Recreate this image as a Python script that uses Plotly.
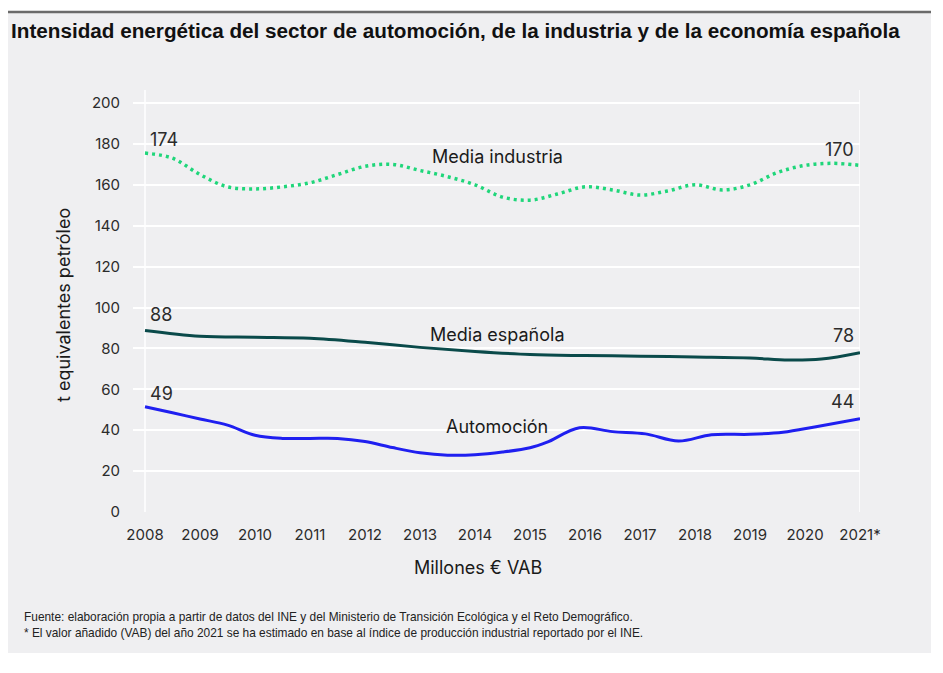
import plotly.graph_objects as go

# ---------------- data ----------------
tick_years = [2008, 2009, 2010, 2011, 2012, 2013, 2014, 2015, 2016, 2017, 2018, 2019, 2020, 2021]
tick_labels = ["2008", "2009", "2010", "2011", "2012", "2013", "2014", "2015", "2016", "2017",
               "2018", "2019", "2020", "2021*"]
y_ticks = [0, 20, 40, 60, 80, 100, 120, 140, 160, 180, 200]

ind_x = [2008.0, 2008.5, 2009.0, 2009.5, 2010.0, 2010.5, 2011.0, 2011.5, 2012.0, 2012.5, 2013.0,
         2013.5, 2014.0, 2014.5, 2015.0, 2015.5, 2016.0, 2016.5, 2017.0, 2017.5, 2018.0, 2018.5,
         2019.0, 2019.5, 2020.0, 2020.5, 2021.0]
ind_y = [175.5, 173, 165, 159, 158, 159, 161, 165, 169, 170, 167, 164, 160, 154, 152.5, 155.5,
         159, 157.5, 155, 157, 160, 157.5, 160, 166, 169.5, 170.5, 169.5]

esp_x = [2008.0, 2009.0, 2010.0, 2011.0, 2012.0, 2013.0, 2014.0, 2015.0, 2016.0, 2017.0, 2018.0,
         2019.0, 2019.7, 2020.3, 2021.0]
esp_y = [88.8, 86, 85.5, 85, 83, 80.5, 78.5, 77, 76.5, 76.2, 75.8, 75.3, 74.3, 74.8, 77.9]

aut_x = [2008.0, 2008.5, 2009.0, 2009.5, 2010.0, 2010.5, 2011.0, 2011.5, 2012.0, 2012.5, 2013.0,
         2013.5, 2014.0, 2014.5, 2015.0, 2015.3, 2015.9, 2016.5, 2017.1, 2017.7, 2018.3, 2019.0,
         2019.6, 2020.2, 2021.0]
aut_y = [51.5, 48.5, 45.5, 42.5, 37.5, 36, 36, 36, 34.5, 31.5, 29, 27.8, 28, 29.3, 31.4, 34,
         41.2, 39.3, 38.2, 34.7, 37.8, 38, 39, 41.7, 45.6]

series_names = ["Media industria", "Media española", "Automoción"]
start_labels = [174, 88, 49]
end_labels = [170, 78, 44]
name_pos_x = [2014.4, 2014.4, 2014.4]
name_pos_y = [173.6, 86.6, 41.6]

title = "Intensidad energética del sector de automoción, de la industria y de la economía española"
x_title = "Millones € VAB"
y_title = "t equivalentes petróleo"
footer = ["Fuente: elaboración propia a partir de datos del INE y del Ministerio de Transición Ecológica y el Reto Demográfico.",
          "* El valor añadido (VAB) del año 2021 se ha estimado en base al índice de producción industrial reportado por el INE."]

# ---------------- layout helpers ----------------
W, H = 943, 673
OFF = 8  # page body margin
PL, PR, PT, PB = 133, 860, 90, 512  # plot area in page pixels
X0 = 2008 - (145 - PL) / 55.0
X1 = 2021
Y1 = (PB - PT) / 2.045


def px(xp):
    return (xp - PL) / (PR - PL)


def py(yp):
    return (PB - yp) / (PB - PT)


TXT = "#2b2b2b"
MAIN_FONT = "Inter, Liberation Sans, Arial, sans-serif"
SANS = "Liberation Sans, Arial, sans-serif"

colors = ["#1fd67a", "#0a4a4a", "#1f1ff0"]
xs = [ind_x, esp_x, aut_x]
ys = [ind_y, esp_y, aut_y]

fig = go.Figure()
for i in range(3):
    fig.add_trace(go.Scatter(
        x=xs[i], y=ys[i], mode="lines", name=series_names[i],
        line=dict(color=colors[i], width=3.5 if i == 0 else 3, shape="spline", smoothing=1.0,
                  dash="3px,4px" if i == 0 else "solid"),
        hoverinfo="skip", showlegend=False))

annotations = []
start_shift = [14, 16, 13]
end_shift = [16, 17, 17]
for i in range(3):
    annotations.append(dict(x=xs[i][0], y=ys[i][0], xref="x", yref="y", text=str(start_labels[i]),
                            showarrow=False, xanchor="left", yanchor="middle", xshift=3,
                            yshift=start_shift[i], font=dict(size=18, color=TXT, family=MAIN_FONT)))
    annotations.append(dict(x=xs[i][-1], y=ys[i][-1], xref="x", yref="y", text=str(end_labels[i]),
                            showarrow=False, xanchor="right", yanchor="middle", xshift=-4,
                            yshift=end_shift[i], font=dict(size=18, color=TXT, family=MAIN_FONT)))
    annotations.append(dict(x=name_pos_x[i], y=name_pos_y[i], xref="x", yref="y", text=series_names[i],
                            showarrow=False, xanchor="center", yanchor="middle",
                            font=dict(size=18, color="#1a1a1a", family=MAIN_FONT)))

annotations.append(dict(x=px(9), y=py(30), xref="paper", yref="paper", text="<b>" + title + "</b>",
                        showarrow=False, xanchor="left", yanchor="middle",
                        font=dict(size=20.7, color="#111111", family=SANS)))
annotations.append(dict(x=px(478), y=py(567), xref="paper", yref="paper", text=x_title,
                        showarrow=False, xanchor="center", yanchor="middle",
                        font=dict(size=18, color="#1a1a1a", family=MAIN_FONT)))
annotations.append(dict(x=px(63), y=py(305), xref="paper", yref="paper", text=y_title, textangle=-90,
                        showarrow=False, xanchor="center", yanchor="middle",
                        font=dict(size=18, color="#1a1a1a", family=MAIN_FONT)))
for j, line in enumerate(footer):
    annotations.append(dict(x=px(22), y=py(617 + 16 * j), xref="paper", yref="paper", text=line,
                            showarrow=False, xanchor="left", yanchor="middle",
                            font=dict(size=11.9, color="#222222", family=SANS)))

shapes = [
    dict(type="rect", xref="paper", yref="paper", x0=px(7), x1=px(931), y0=py(653), y1=py(12),
         fillcolor="#efeff1", line=dict(width=0), layer="below"),
    dict(type="line", xref="paper", yref="paper", x0=px(7), x1=px(931), y0=py(12), y1=py(12),
         line=dict(color="#6a6a6a", width=2.5), layer="below"),
    dict(type="line", xref="x", yref="paper", x0=2008, x1=2008, y0=0, y1=1,
         line=dict(color="#ffffff", width=1.5), layer="below"),
    dict(type="line", xref="x", yref="paper", x0=2021, x1=2021, y0=0, y1=1,
         line=dict(color="#ffffff", width=1.5), layer="below"),
]

fig.update_layout(
    width=W - OFF, height=H - OFF,
    margin=dict(l=PL - OFF, r=W - PR, t=PT - OFF, b=H - PB, pad=0),
    paper_bgcolor="#ffffff", plot_bgcolor="rgba(0,0,0,0)",
    annotations=annotations, shapes=shapes,
    font=dict(family=MAIN_FONT, color=TXT),
    xaxis=dict(range=[X0, X1], tickvals=tick_years, ticktext=tick_labels, showgrid=False,
               zeroline=False, showline=False, ticks="", ticklabelstandoff=12,
               tickfont=dict(size=15, color=TXT, family=MAIN_FONT), fixedrange=True),
    yaxis=dict(range=[0, Y1], tickvals=y_ticks, showgrid=True, gridcolor="#ffffff", gridwidth=1.5,
               zeroline=False, showline=False, ticks="", ticklabelstandoff=12,
               tickfont=dict(size=15, color=TXT, family=MAIN_FONT), fixedrange=True),
)

fig.write_html("out.html")
